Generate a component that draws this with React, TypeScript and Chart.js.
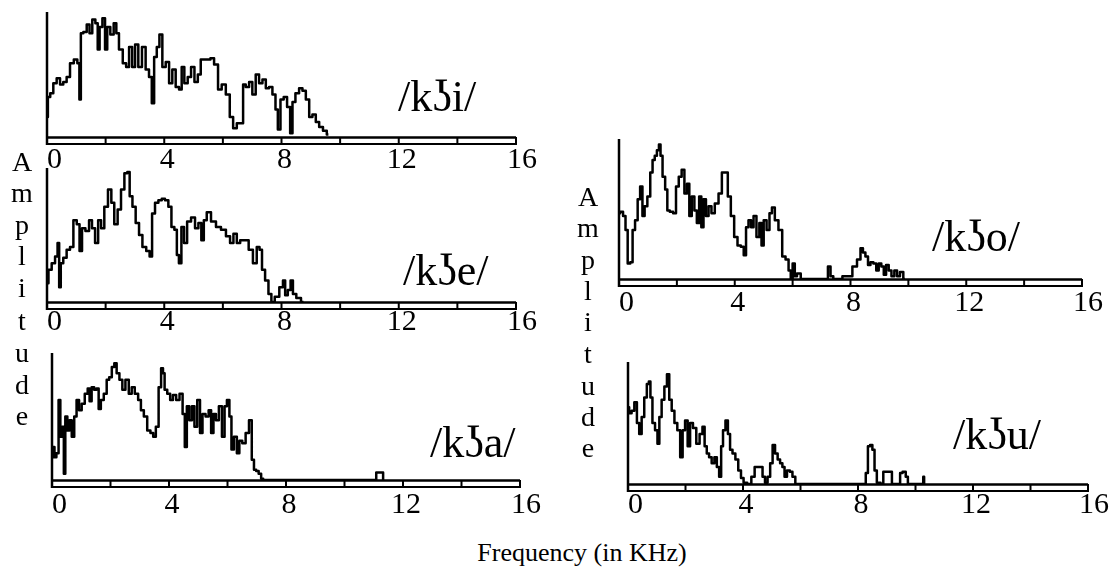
import React, { useEffect, useRef } from "react";
import { Chart, registerables } from "chart.js";

Chart.register(...registerables);

// ---------- data (frequency in kHz, relative amplitude 0-100) ----------
const BAR_TICKS = [0, 2, 4, 6, 8, 10, 12, 14, 16];
const TICK_LABELS = [0, 4, 8, 12, 16];

const KI_SPECTRUM = [
  [0, 16], [0.06, 32], [0.16, 35], [0.27, 43], [0.39, 47], [0.5, 42], [0.61, 44], [0.73, 48], [0.84, 59], [0.99, 62],
  [1.08, 59], [1.13, 30], [1.18, 83], [1.3, 84], [1.41, 90], [1.49, 83], [1.6, 94], [1.7, 91], [1.76, 70], [1.83, 88],
  [1.95, 95], [2.01, 70], [2.1, 88], [2.22, 82], [2.33, 91], [2.4, 83], [2.51, 70], [2.66, 59], [2.74, 56], [2.86, 72],
  [2.95, 56], [3.06, 74], [3.17, 56], [3.31, 72], [3.42, 54], [3.54, 48], [3.61, 27], [3.7, 64], [3.79, 72], [3.88, 82],
  [3.99, 56], [4.11, 60], [4.22, 43], [4.33, 54], [4.45, 40], [4.56, 38], [4.63, 56], [4.74, 43], [4.86, 48], [4.97, 56],
  [5.09, 44], [5.2, 50], [5.29, 62], [5.4, 62], [5.52, 62], [5.63, 63], [5.77, 58], [5.9, 38], [6.02, 42], [6.18, 34],
  [6.29, 16], [6.41, 7], [6.54, 11], [6.66, 11], [6.72, 42], [6.84, 40], [6.95, 44], [7.06, 34], [7.18, 50], [7.29, 43],
  [7.41, 46], [7.52, 39], [7.63, 40], [7.75, 34], [7.84, 22], [7.91, 6], [8.02, 30], [8.13, 32], [8.25, 24], [8.34, 3],
  [8.41, 28], [8.54, 35], [8.66, 39], [8.77, 37], [8.89, 30], [9.0, 16], [9.11, 18], [9.23, 12], [9.34, 8], [9.49, 5],
  [9.6, 2],
];

const KE_SPECTRUM = [
  [0, 14], [0.1, 24], [0.22, 29], [0.33, 34], [0.39, 44], [0.44, 11], [0.5, 29], [0.61, 33], [0.73, 39], [0.84, 41],
  [0.96, 61], [1.07, 58], [1.15, 38], [1.24, 55], [1.38, 53], [1.49, 61], [1.58, 55], [1.7, 44], [1.79, 61], [1.9, 55],
  [2.01, 71], [2.15, 84], [2.24, 74], [2.35, 58], [2.47, 69], [2.58, 84], [2.7, 96], [2.78, 97], [2.86, 79], [2.97, 71],
  [3.08, 59], [3.2, 50], [3.31, 41], [3.46, 38], [3.54, 34], [3.63, 66], [3.74, 74], [3.86, 76], [3.97, 77], [4.08, 76],
  [4.2, 71], [4.29, 56], [4.4, 54], [4.46, 35], [4.54, 29], [4.63, 56], [4.72, 44], [4.84, 60], [4.99, 63], [5.11, 55],
  [5.22, 59], [5.31, 46], [5.39, 61], [5.51, 67], [5.68, 60], [5.85, 56], [6.02, 54], [6.19, 49], [6.3, 44], [6.42, 51],
  [6.53, 44], [6.65, 46], [6.81, 46], [6.95, 39], [7.1, 29], [7.21, 41], [7.29, 39], [7.38, 24], [7.5, 16], [7.61, 6],
  [7.7, 0], [7.84, 4], [8.01, 11], [8.09, 16], [8.16, 5], [8.27, 9], [8.35, 16], [8.43, 6], [8.58, 3], [8.75, 0],
];

const KA_SPECTRUM = [
  [0, 18], [0.06, 26], [0.11, 18], [0.19, 21], [0.26, 63], [0.31, 34], [0.38, 42], [0.43, 5], [0.48, 50], [0.57, 39],
  [0.63, 47], [0.72, 34], [0.8, 50], [0.88, 63], [0.97, 55], [1.06, 60], [1.18, 68], [1.26, 72], [1.31, 62], [1.4, 73],
  [1.48, 71], [1.56, 72], [1.63, 56], [1.71, 63], [1.83, 68], [1.91, 79], [2.0, 81], [2.09, 89], [2.17, 92], [2.25, 84],
  [2.36, 79], [2.45, 71], [2.57, 79], [2.68, 68], [2.77, 73], [2.89, 68], [3.0, 63], [3.08, 55], [3.2, 50], [3.31, 39],
  [3.42, 37], [3.5, 34], [3.6, 42], [3.69, 73], [3.77, 88], [3.82, 84], [3.88, 71], [4.0, 68], [4.08, 63], [4.19, 67],
  [4.3, 63], [4.42, 68], [4.51, 52], [4.57, 26], [4.65, 58], [4.74, 47], [4.83, 58], [4.91, 42], [5.02, 63], [5.1, 37],
  [5.19, 52], [5.31, 50], [5.4, 55], [5.48, 37], [5.56, 52], [5.65, 47], [5.76, 58], [5.86, 34], [5.94, 58], [6.02, 63],
  [6.11, 50], [6.16, 24], [6.28, 34], [6.36, 21], [6.45, 31], [6.56, 29], [6.68, 37], [6.79, 47], [6.87, 16], [6.94, 8],
  [7.02, 7], [7.11, 5], [7.19, 1], [7.25, 0], [11.07, 0], [11.1, 6], [11.3, 6], [11.34, 0],
];

const KO_SPECTRUM = [
  [0, 47], [0.08, 48], [0.2, 45], [0.25, 35], [0.35, 11], [0.43, 12], [0.51, 35], [0.6, 42], [0.69, 57], [0.77, 66],
  [0.85, 45], [0.92, 52], [1.04, 59], [1.12, 76], [1.2, 85], [1.27, 88], [1.35, 92], [1.41, 96], [1.46, 88], [1.55, 73],
  [1.64, 64], [1.7, 49], [1.81, 48], [1.93, 47], [2.01, 66], [2.12, 73], [2.21, 78], [2.31, 61], [2.39, 68], [2.47, 45],
  [2.56, 59], [2.65, 49], [2.73, 40], [2.81, 59], [2.88, 37], [2.96, 57], [3.05, 45], [3.14, 52], [3.25, 47], [3.37, 54],
  [3.51, 61], [3.6, 76], [3.71, 76], [3.81, 59], [3.92, 45], [4.04, 30], [4.15, 24], [4.27, 23], [4.35, 17], [4.43, 37],
  [4.52, 42], [4.61, 37], [4.69, 45], [4.81, 30], [4.89, 40], [4.96, 24], [5.04, 42], [5.16, 35], [5.24, 47], [5.33, 51],
  [5.44, 42], [5.58, 35], [5.7, 16], [5.81, 14], [5.91, 6], [5.96, 0], [6.04, 11], [6.11, 2], [6.19, 4], [6.37, 0],
  [7.17, 0], [7.27, 9], [7.35, 2], [7.46, 0], [7.98, 2], [8.15, 9], [8.3, 14], [8.39, 22], [8.47, 19], [8.56, 16],
  [8.65, 10], [8.73, 12], [8.85, 11], [8.93, 6], [9.02, 11], [9.11, 9], [9.19, 3], [9.27, 10], [9.37, 6], [9.46, 2],
  [9.57, 6], [9.65, 2], [9.77, 5], [9.88, 0],
];

const KU_SPECTRUM = [
  [0, 63], [0.08, 58], [0.17, 60], [0.27, 67], [0.35, 50], [0.43, 41], [0.52, 55], [0.61, 71], [0.7, 82], [0.75, 84],
  [0.81, 71], [0.89, 50], [0.99, 44], [1.06, 33], [1.12, 55], [1.22, 69], [1.31, 80], [1.4, 90], [1.47, 69], [1.57, 60],
  [1.66, 50], [1.77, 44], [1.86, 22], [1.94, 44], [2.03, 52], [2.12, 31], [2.2, 50], [2.32, 46], [2.43, 33], [2.55, 41],
  [2.63, 47], [2.7, 31], [2.78, 25], [2.86, 22], [2.96, 17], [3.05, 22], [3.13, 14], [3.21, 6], [3.27, 31], [3.34, 44],
  [3.44, 52], [3.51, 41], [3.59, 28], [3.68, 25], [3.79, 20], [3.88, 11], [3.98, 5], [4.06, 1], [4.23, 0], [4.35, 6],
  [4.46, 14], [4.64, 14], [4.72, 6], [4.81, 1], [4.9, 6], [4.99, 17], [5.07, 32], [5.16, 25], [5.25, 20], [5.33, 17],
  [5.41, 14], [5.48, 6], [5.58, 11], [5.68, 10], [5.76, 6], [5.88, 0], [8.23, 0], [8.31, 9], [8.38, 31], [8.46, 32],
  [8.54, 28], [8.61, 11], [8.7, 1], [8.87, 0], [8.89, 10], [9.16, 10], [9.2, 0], [9.45, 0], [9.48, 9], [9.62, 10],
  [9.7, 6], [9.77, 0], [10.26, 0], [10.28, 6], [10.32, 0],
];

const LABELS = ["/kʖi/", "/kʖe/", "/kʖa/", "/kʖo/", "/kʖu/"];
const AXIS_TITLE = "Frequency (in KHz)";
const Y_TITLE = "Amplitude";

// ---------- layout ----------
const FONT = '"Liberation Serif", "Times New Roman", Times, serif';

type PanelCfg = {
  data: number[][];
  label: string;
  x0: number;
  x16: number;
  top: number;
  bottom: number;
  labelX: number;
  labelY: number;
  tickDy: number;
};

const PANELS: PanelCfg[] = [
  { data: KI_SPECTRUM, label: LABELS[0], x0: 47, x16: 516, top: 12, bottom: 137, labelX: 398, labelY: 99, tickDy: 23 },
  { data: KE_SPECTRUM, label: LABELS[1], x0: 47, x16: 516, top: 168, bottom: 302, labelX: 403, labelY: 273, tickDy: 20 },
  { data: KA_SPECTRUM, label: LABELS[2], x0: 52, x16: 520, top: 353, bottom: 480, labelX: 430, labelY: 445, tickDy: 25 },
  { data: KO_SPECTRUM, label: LABELS[3], x0: 619, x16: 1082, top: 139, bottom: 279, labelX: 932, labelY: 239, tickDy: 24 },
  { data: KU_SPECTRUM, label: LABELS[4], x0: 628, x16: 1088, top: 362, bottom: 484, labelX: 953, labelY: 437, tickDy: 21 },
];

const PAD = { left: 45, right: 30, top: 10, bottom: 45 };

const rulerPlugin = {
  id: "ruler",
  afterDraw(chart: any, _args: any, opts: any) {
    const { ctx } = chart;
    const xs = chart.scales.x;
    const ys = chart.scales.y;
    const xStart = xs.getPixelForValue(0);
    const xEnd = xs.getPixelForValue(16);
    const yBase = ys.getPixelForValue(0);
    const yTop = ys.getPixelForValue(100);
    const barH = 7;
    ctx.save();
    ctx.strokeStyle = "#000";
    ctx.lineCap = "butt";
    // vertical amplitude axis
    ctx.lineWidth = 2.5;
    ctx.beginPath();
    ctx.moveTo(xStart, yTop);
    ctx.lineTo(xStart, yBase + barH + 1);
    ctx.stroke();
    // double-line ruler
    ctx.lineWidth = 2.5;
    ctx.beginPath();
    ctx.moveTo(xStart, yBase + 0.5);
    ctx.lineTo(xEnd, yBase + 0.5);
    ctx.stroke();
    ctx.lineWidth = 2;
    ctx.beginPath();
    ctx.moveTo(xStart, yBase + barH);
    ctx.lineTo(xEnd, yBase + barH);
    ctx.stroke();
    ctx.lineWidth = 2;
    BAR_TICKS.forEach((t) => {
      const px = xs.getPixelForValue(t);
      ctx.beginPath();
      ctx.moveTo(px, yBase);
      ctx.lineTo(px, yBase + barH + 1);
      ctx.stroke();
    });
    // tick labels
    ctx.fillStyle = "#000";
    ctx.font = `30px ${FONT}`;
    ctx.textBaseline = "middle";
    TICK_LABELS.forEach((t, i) => {
      const px = xs.getPixelForValue(t);
      if (i === 0) {
        ctx.textAlign = "left";
        ctx.fillText(String(t), px, yBase + opts.tickDy);
      } else if (i === TICK_LABELS.length - 1) {
        ctx.textAlign = "center";
        ctx.fillText(String(t), px + 6, yBase + opts.tickDy);
      } else {
        ctx.textAlign = "center";
        ctx.fillText(String(t), px + 3, yBase + opts.tickDy);
      }
    });
    // phoneme label
    ctx.font = `44px ${FONT}`;
    ctx.textAlign = "left";
    ctx.textBaseline = "middle";
    ctx.fillText(opts.label, opts.labelX, opts.labelY);
    ctx.restore();
  },
};

function Panel({ cfg }: { cfg: PanelCfg }) {
  const ref = useRef<HTMLCanvasElement>(null);
  const left = cfg.x0 - PAD.left;
  const top = cfg.top - PAD.top;
  const width = cfg.x16 - cfg.x0 + PAD.left + PAD.right;
  const height = cfg.bottom - cfg.top + PAD.top + PAD.bottom;

  useEffect(() => {
    if (!ref.current) return;
    const chart = new Chart(ref.current, {
      type: "line",
      data: {
        datasets: [
          {
            data: cfg.data.map(([x, y]) => ({ x, y })),
            borderColor: "#000",
            borderWidth: 2.5,
            pointRadius: 0,
            tension: 0,
            stepped: "middle",
            fill: false,
            borderJoinStyle: "round",
          } as any,
        ],
      },
      options: {
        animation: false,
        responsive: false,
        events: [],
        layout: { padding: PAD },
        plugins: {
          legend: { display: false },
          tooltip: { enabled: false },
          ruler: {
            label: cfg.label,
            labelX: cfg.labelX - left,
            labelY: cfg.labelY - top,
            tickDy: cfg.tickDy,
          },
        } as any,
        scales: {
          x: { type: "linear", min: 0, max: 16, display: false },
          y: { type: "linear", min: 0, max: 100, display: false },
        },
      },
      plugins: [rulerPlugin],
    });
    return () => chart.destroy();
  }, []);

  return (
    <canvas
      ref={ref}
      width={width}
      height={height}
      style={{ position: "absolute", left, top, width, height }}
    />
  );
}

const LEFT_Y_LETTERS = [162, 193, 225, 256, 288, 321, 353, 385, 416];
const RIGHT_Y_LETTERS = [197, 228, 260, 291, 322, 354, 386, 417, 448];

function VerticalTitle({ x, ys }: { x: number; ys: number[] }) {
  return (
    <>
      {Y_TITLE.split("").map((ch, i) => (
        <div
          key={i}
          style={{
            position: "absolute",
            left: x,
            top: ys[i],
            transform: "translate(-50%, -50%)",
            font: `28px ${FONT}`,
            lineHeight: 1,
            color: "#000",
          }}
        >
          {ch}
        </div>
      ))}
    </>
  );
}

export default function App() {
  return (
    <div
      style={{
        position: "absolute",
        left: 0,
        top: 0,
        width: 1119,
        height: 581,
        background: "#fff",
        overflow: "hidden",
      }}
    >
      {PANELS.map((p, i) => (
        <Panel key={i} cfg={p} />
      ))}
      <VerticalTitle x={22} ys={LEFT_Y_LETTERS} />
      <VerticalTitle x={588} ys={RIGHT_Y_LETTERS} />
      <div
        style={{
          position: "absolute",
          left: 582,
          top: 553,
          transform: "translate(-50%, -50%)",
          font: `26px ${FONT}`,
          whiteSpace: "nowrap",
          color: "#000",
        }}
      >
        {AXIS_TITLE}
      </div>
    </div>
  );
}
